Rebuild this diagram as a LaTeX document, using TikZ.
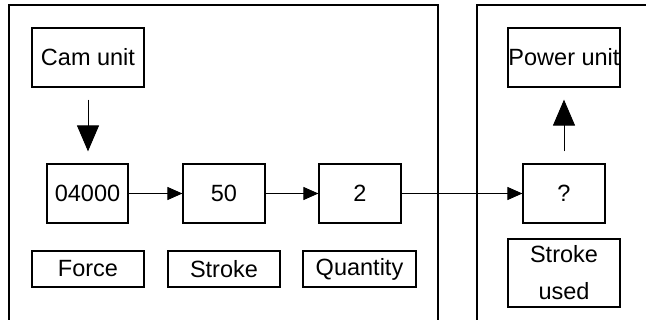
\documentclass[tikz,border=0pt]{standalone}
\usepackage{fontspec}
\setmainfont{Liberation Sans}
\usetikzlibrary{arrows.meta}
\begin{document}
\begin{tikzpicture}[x=1pt,y=-1pt,
  box/.style={draw=black,line width=1.2pt,inner sep=0pt,minimum height=59pt,font=\fontsize{23.5}{26}\selectfont},
  lab/.style={draw=black,line width=1.2pt,inner sep=0pt,minimum height=36pt,minimum width=112pt,font=\fontsize{23.5}{26}\selectfont},
  harr/.style={line width=1pt,-{Triangle[length=15pt,width=13pt]}},
  varr/.style={line width=1pt,-{Triangle[length=26pt,width=22pt]},shorten <=12pt,shorten >=12pt},
  panel/.style={draw=black,line width=1.3pt}]
\useasboundingbox (0,0) rectangle (646,320);
\clip (0,0) rectangle (646,320);
\fill[white] (0,0) rectangle (646,320);
\draw[panel] (9,340) -- (9,5) -- (438,5) -- (438,340);
\draw[panel] (477,340) -- (477,5) -- (660,5);
\node[box,minimum width=112pt] (cam) at (88,57.5) {Cam unit};
\node[box,minimum width=112pt] (power) at (564,57.5) {Power unit};
\node[box,minimum width=81pt] (n1) at (87.5,193.5) {04000};
\node[box,minimum width=82pt] (n2) at (224,193.5) {50};
\node[box,minimum width=82pt] (n3) at (360,193.5) {2};
\node[box,minimum width=82pt] (n4) at (564,193.5) {?};
\node[lab] (force) at (88,269) {Force};
\node[lab] (stroke) at (224,269) {Stroke};
\node[lab,minimum width=113pt] (quantity) at (359.5,269) {Quantity};
\node[draw=black,line width=1.2pt,inner sep=0pt,minimum width=112pt,minimum height=68pt,align=center,font=\fontsize{23.5}{37}\selectfont] (used) at (564,273) {Stroke\\used};
\draw[varr] (cam.south) -- (cam.south |- n1.north);
\draw[varr] (n4.north) -- (n4.north |- power.south);
\draw[harr] (n1.east) -- (n2.west);
\draw[harr] (n2.east) -- (n3.west);
\draw[harr] (n3.east) -- (n4.west);
\end{tikzpicture}
\end{document}
